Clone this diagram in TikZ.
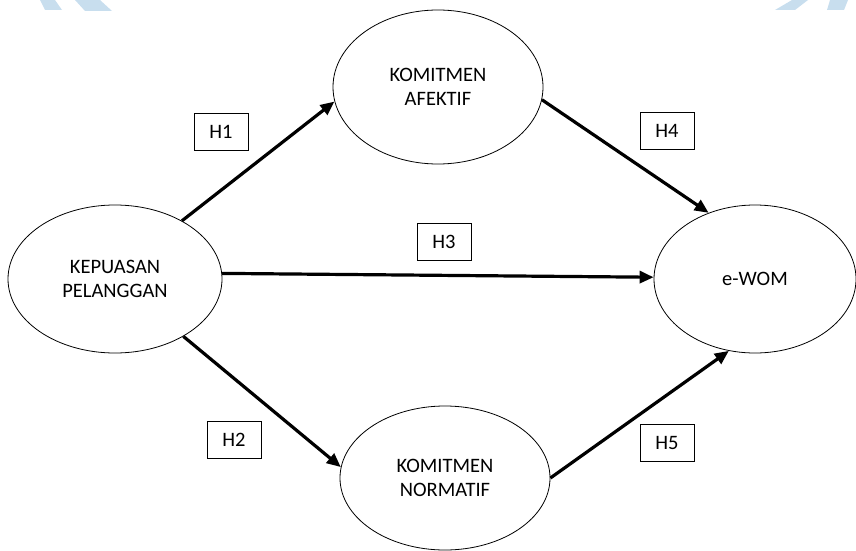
\documentclass[tikz,border=0pt]{standalone}
\usepackage{fontspec}
\setmainfont{Carlito}
\usetikzlibrary{shapes.geometric,arrows.meta}
\definecolor{wmblue}{RGB}{200,222,238}

\begin{document}
\begin{tikzpicture}[->,>={Triangle[length=14pt,width=12pt]},x=1pt,y=-1pt,font=\fontsize{20.5}{24}\selectfont]

\tikzstyle{oval}=[draw=black,ellipse,line width=0.8pt,align=center,inner sep=0pt]
\tikzstyle{hyp}=[draw=black,line width=0.9pt,minimum width=54pt,minimum height=37pt,inner sep=0pt]

    \useasboundingbox (0,0) rectangle (856,551);

    % watermark pieces at the top edge
    \fill[wmblue] (40,0) -- (55,0) -- (62,10) -- (45,10) -- cycle;
    \fill[wmblue] (75,0) -- (100,0) -- (112,11) -- (85,11) -- cycle;
    \fill[wmblue] (792,0) -- (808,0) -- (795,10) -- (775,10) -- cycle;
    \fill[wmblue] (830,0) -- (848,0) -- (844,10) -- (827,10) -- cycle;

    \node[oval,minimum width=214pt,minimum height=148pt] (kp) at (115,279) {KEPUASAN\\PELANGGAN};
    \node[oval,minimum width=210pt,minimum height=154pt] (ka) at (438,87)  {KOMITMEN\\AFEKTIF};
    \node[oval,minimum width=210pt,minimum height=144pt] (kn) at (445,478) {KOMITMEN\\NORMATIF};
    \node[oval,minimum width=202pt,minimum height=148pt] (ew) at (755,279) {e-WOM};

    \node[hyp] (h1) at (221,132) {H1};
    \node[hyp] (h2) at (234,440) {H2};
    \node[hyp] (h3) at (444,242) {H3};
    \node[hyp] (h4) at (667,131) {H4};
    \node[hyp] (h5) at (667,443) {H5};

	\path[line width=3.2pt]
 	(kp.41)  edge (ka.188)
 	(kp.3)   edge (ew.179)
 	(kp.320) edge (kn.174)
	(ka.353) edge (ew.125)
	(kn.0)   edge (ew.250);

\end{tikzpicture}
\end{document}
